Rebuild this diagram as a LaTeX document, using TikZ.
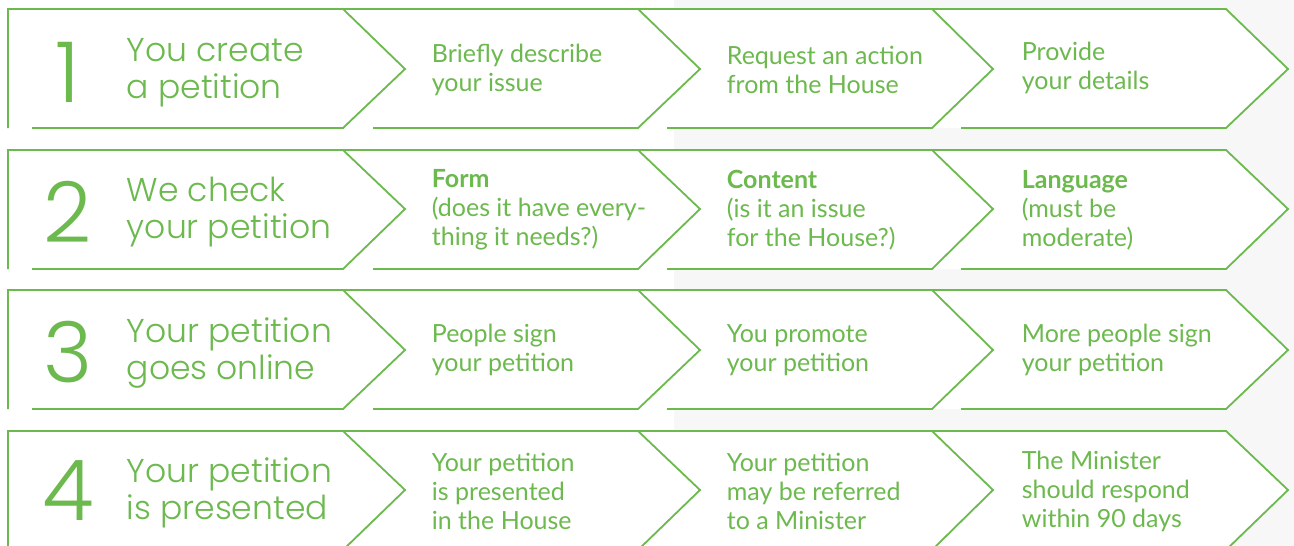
\documentclass[tikz,border=0pt]{standalone}
\usepackage{fontspec}
\setmainfont{Lato}
\newfontfamily\headfont{Poppins}[UprightFont=* Light]
\definecolor{petgreen}{HTML}{6CB94E}
\definecolor{pagegray}{HTML}{F7F7F7}

\begin{document}
\begin{tikzpicture}[x=1pt,y=-1pt,line width=1.8pt,line join=miter,
  num/.style={text=petgreen,font=\headfont\fontsize{84}{84}\selectfont,inner sep=0pt},
  head/.style={anchor=west,align=left,text=petgreen,inner sep=0pt,
    font=\headfont\fontsize{33}{37}\selectfont},
  item/.style={anchor=west,align=left,text=petgreen,inner sep=0pt,
    font=\fontsize{25}{29}\selectfont}]

  \useasboundingbox (0,0) rectangle (1294,546);
  \fill[white] (0,0) rectangle (674,546);
  \fill[pagegray] (674,0) rectangle (1294,546);

  % the four rows of arrows
  \fill[white] (8,9) -- (1226,9) -- (1288,69) -- (1226,128) -- (8,128) -- cycle;
  \draw[petgreen] (8,128) -- (8,9) -- (1226,9) -- (1288,69) -- (1226,128) -- (961,128)
    (932,9) -- (993,69) -- (932,128) -- (667,128)
    (638,9) -- (700,69) -- (638,128) -- (373,128)
    (343,9) -- (405,69) -- (343,128) -- (32,128);

  \fill[white] (8,150) -- (1226,150) -- (1288,209) -- (1226,269) -- (8,269) -- cycle;
  \draw[petgreen] (8,269) -- (8,150) -- (1226,150) -- (1288,209) -- (1226,269) -- (961,269)
    (932,150) -- (993,209) -- (932,269) -- (667,269)
    (638,150) -- (700,209) -- (638,269) -- (373,269)
    (343,150) -- (405,209) -- (343,269) -- (32,269);

  \fill[white] (8,290) -- (1226,290) -- (1288,350) -- (1226,409) -- (8,409) -- cycle;
  \draw[petgreen] (8,409) -- (8,290) -- (1226,290) -- (1288,350) -- (1226,409) -- (961,409)
    (932,290) -- (993,350) -- (932,409) -- (667,409)
    (638,290) -- (700,350) -- (638,409) -- (373,409)
    (343,290) -- (405,350) -- (343,409) -- (32,409);

  \fill[white] (8,431) -- (1226,431) -- (1288,490) -- (1226,550) -- (8,550) -- cycle;
  \draw[petgreen] (8,550) -- (8,431) -- (1226,431) -- (1288,490) -- (1226,550) -- (961,550)
    (932,431) -- (993,490) -- (932,550) -- (667,550)
    (638,431) -- (700,490) -- (638,550) -- (373,550)
    (343,431) -- (405,490) -- (343,550) -- (32,550);

  % row 1
  \node[num] (n1) at (68,72) {1};
  \node[head] (h1) at (126,73) {You create\\a petition};
  \node[item] (a1) at (431,70) {Briefly describe\\your issue};
  \node[item] (b1) at (726,70) {Request an action\\from the House};
  \node[item] (c1) at (1021,68) {Provide\\your details};

  % row 2
  \node[num] (n2) at (68,212) {2};
  \node[head] (h2) at (126,212) {We check\\your petition};
  \node[item] (a2) at (431,210) {\textbf{Form}\\(does it have every-\\thing it needs?)};
  \node[item] (b2) at (726,210) {\textbf{Content}\\(is it an issue\\for the House?)};
  \node[item] (c2) at (1021,210) {\textbf{Language}\\(must be\\moderate)};

  % row 3
  \node[num] (n3) at (68,352) {3};
  \node[head] (h3) at (126,353) {Your petition\\goes online};
  \node[item] (a3) at (431,350) {People sign\\your petition};
  \node[item] (b3) at (726,350) {You promote\\your petition};
  \node[item] (c3) at (1021,350) {More people sign\\your petition};

  % row 4
  \node[num] (n4) at (68,491) {4};
  \node[head] (h4) at (126,493) {Your petition\\is presented};
  \node[item] (a4) at (431,491) {Your petition\\is presented\\in the House};
  \node[item] (b4) at (726,491) {Your petition\\may be referred\\to a Minister};
  \node[item] (c4) at (1021,491) {The Minister\\should respond\\within 90 days};
\end{tikzpicture}
\end{document}
